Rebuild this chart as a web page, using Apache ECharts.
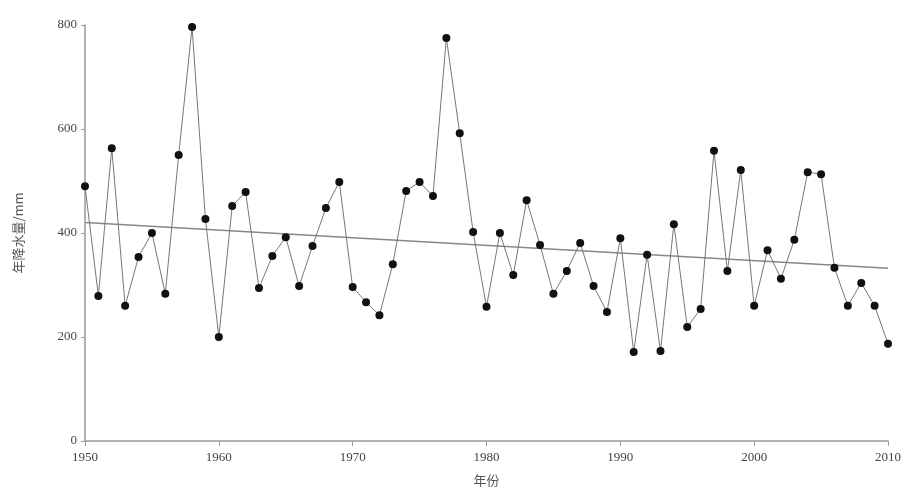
<!DOCTYPE html>
<html>
<head>
<meta charset="utf-8">
<script src="https://cdn.jsdelivr.net/npm/echarts@6/dist/echarts.min.js"></script>
<style>html,body{margin:0;padding:0;background:#fff}#c{width:915px;height:495px}</style>
</head>
<body>
<div id="c"></div>
<script>
var years = [1950,1951,1952,1953,1954,1955,1956,1957,1958,1959,
             1960,1961,1962,1963,1964,1965,1966,1967,1968,1969,
             1970,1971,1972,1973,1974,1975,1976,1977,1978,1979,
             1980,1981,1982,1983,1984,1985,1986,1987,1988,1989,
             1990,1991,1992,1993,1994,1995,1996,1997,1998,1999,
             2000,2001,2002,2003,2004,2005,2006,2007,2008,2009,2010];
var values = [490,279,563,260,354,400,283,550,796,427,
              200,452,479,294,356,392,298,375,448,498,
              296,267,242,340,481,498,471,775,592,402,
              258,400,319,463,377,283,327,381,298,248,
              390,171,358,173,417,219,254,558,327,521,
              260,367,312,387,517,513,333,260,304,260,187];
var trendYears = [1950, 2010];
var trendValues = [420, 332];
var yTicks = [0,200,400,600,800];
var xTicks = [1950,1960,1970,1980,1990,2000,2010];

var chart = echarts.init(document.getElementById('c'));
var lineData = years.map(function(y,i){return [y, values[i]];});
var trendData = trendYears.map(function(y,i){return [y, trendValues[i]];});
var lab = {fontFamily:'Liberation Serif', fontSize:13, color:'#444'};
chart.setOption({
  animation:false,
  grid:{left:85, right:27, top:25, bottom:54},
  xAxis:{type:'value', min:xTicks[0], max:xTicks[xTicks.length-1], interval:10,
    name:'年份', nameLocation:'middle', nameGap:33,
    nameTextStyle:{fontFamily:'Noto Sans CJK SC', fontSize:13, color:'#555'},
    axisLine:{lineStyle:{color:'#999', width:1.5}},
    axisTick:{show:true, length:5, lineStyle:{color:'#999'}},
    axisLabel:Object.assign({formatter:function(v){return String(v);}, margin:10}, lab),
    splitLine:{show:false}},
  yAxis:{type:'value', min:yTicks[0], max:yTicks[yTicks.length-1], interval:200,
    name:'年降水量/mm', nameLocation:'middle', nameGap:60,
    nameTextStyle:{fontFamily:'Noto Sans CJK SC', fontSize:13, color:'#555'},
    axisLine:{show:true, lineStyle:{color:'#999', width:1.5}},
    axisTick:{show:true, length:4, lineStyle:{color:'#999'}},
    axisLabel:lab,
    splitLine:{show:false}},
  series:[
    {type:'line', data:lineData, symbol:'circle', symbolSize:8,
     itemStyle:{color:'#111'}, lineStyle:{color:'#777', width:1}, z:3},
    {type:'line', data:trendData, symbol:'none',
     lineStyle:{color:'#888', width:1.5}, z:2}
  ]
});
</script>
</body>
</html>
